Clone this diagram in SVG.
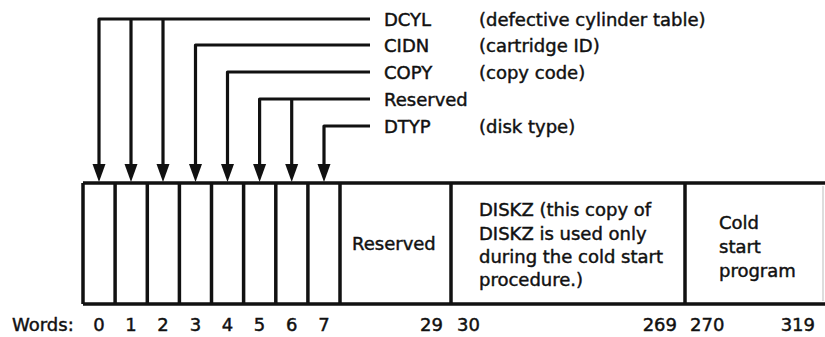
<svg xmlns="http://www.w3.org/2000/svg" width="825" height="337" viewBox="0 0 825 337">
  <style>
    .t { font-family: "DejaVu Sans", "Liberation Sans", sans-serif; font-size: 18px; fill: #111; stroke: #111; stroke-width: 0.45; }
    .div { stroke: #111; stroke-width: 3.5; fill: none; }
    .wire { fill: none; stroke: #111; stroke-width: 3.2; stroke-linejoin: round; }
    .num { text-anchor: middle; }
    .end { text-anchor: end; }
  </style>

  <rect width="825" height="337" fill="#fff"/>

  <!-- connectors from field names down to word cells -->
  <g id="connectors">
    <path class="wire" d="M370,19 H99 V165"/>
    <path class="wire" d="M131,19 V165"/>
    <path class="wire" d="M163,19 V165"/>
    <path class="wire" d="M370,45 H195.5 V165"/>
    <path class="wire" d="M370,72 H227.5 V165"/>
    <path class="wire" d="M370,99 H259.6 V165"/>
    <path class="wire" d="M291.7,99 V165"/>
    <path class="wire" d="M370,126 H324 V165"/>
    <g fill="#111">
      <path d="M92.5,164 H105.5 L99,182 Z"/>
      <path d="M124.5,164 H137.5 L131,182 Z"/>
      <path d="M156.5,164 H169.5 L163,182 Z"/>
      <path d="M189,164 H202 L195.5,182 Z"/>
      <path d="M221,164 H234 L227.5,182 Z"/>
      <path d="M253.1,164 H266.1 L259.6,182 Z"/>
      <path d="M285.2,164 H298.2 L291.7,182 Z"/>
      <path d="M317.5,164 H330.5 L324,182 Z"/>
    </g>
  </g>

  <!-- field labels -->
  <g id="label-dcyl">
    <text class="t" x="384" y="26">DCYL</text>
    <text class="t" x="479" y="26">(defective cylinder table)</text>
  </g>
  <g id="label-cidn">
    <text class="t" x="384" y="52">CIDN</text>
    <text class="t" x="479" y="52">(cartridge ID)</text>
  </g>
  <g id="label-copy">
    <text class="t" x="384" y="79">COPY</text>
    <text class="t" x="479" y="79">(copy code)</text>
  </g>
  <g id="label-reserved">
    <text class="t" x="384" y="106">Reserved</text>
  </g>
  <g id="label-dtyp">
    <text class="t" x="384" y="133">DTYP</text>
    <text class="t" x="479" y="133">(disk type)</text>
  </g>

  <!-- sector layout -->
  <g id="sector">
    <path class="div" d="M83,183 H825 M83,304 H825"/>
    <path d="M823,186 V301" stroke="#bbb" stroke-width="1"/>
  </g>
  <g id="word-0"><path class="div" d="M83,183 V304"/></g>
  <g id="word-1"><path class="div" d="M115.1,183 V304"/></g>
  <g id="word-2"><path class="div" d="M147.3,183 V304"/></g>
  <g id="word-3"><path class="div" d="M179.4,183 V304"/></g>
  <g id="word-4"><path class="div" d="M211.5,183 V304"/></g>
  <g id="word-5"><path class="div" d="M243.6,183 V304"/></g>
  <g id="word-6"><path class="div" d="M275.8,183 V304"/></g>
  <g id="word-7"><path class="div" d="M307.9,183 V304"/></g>
  <g id="reserved-area">
    <path class="div" d="M340,183 V304"/>
    <text class="t" x="352" y="250">Reserved</text>
  </g>
  <g id="diskz-area">
    <path class="div" d="M451,183 V304"/>
    <text class="t" x="479" y="216">DISKZ (this copy of</text>
    <text class="t" x="479" y="239.5">DISKZ is used only</text>
    <text class="t" x="479" y="263">during the cold start</text>
    <text class="t" x="479" y="286">procedure.)</text>
  </g>
  <g id="coldstart-area">
    <path class="div" d="M685,183 V304"/>
    <text class="t" x="719" y="229">Cold</text>
    <text class="t" x="719" y="253">start</text>
    <text class="t" x="719" y="277">program</text>
  </g>

  <!-- word numbering -->
  <g id="word-numbers">
    <text class="t" x="12" y="331">Words:</text>
    <text class="t num" x="99" y="331">0</text>
    <text class="t num" x="131" y="331">1</text>
    <text class="t num" x="163" y="331">2</text>
    <text class="t num" x="195.5" y="331">3</text>
    <text class="t num" x="227.5" y="331">4</text>
    <text class="t num" x="259.6" y="331">5</text>
    <text class="t num" x="291.7" y="331">6</text>
    <text class="t num" x="324" y="331">7</text>
    <text class="t end" x="443" y="331">29</text>
    <text class="t" x="457" y="331">30</text>
    <text class="t end" x="677" y="331">269</text>
    <text class="t" x="690" y="331">270</text>
    <text class="t end" x="815" y="331">319</text>
  </g>
</svg>
